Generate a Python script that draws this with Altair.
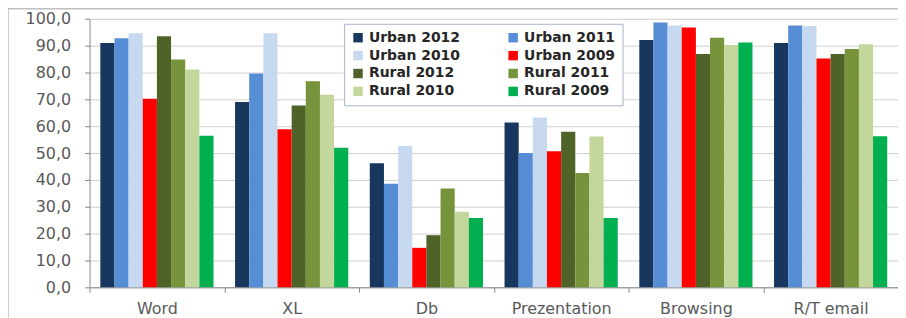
import altair as alt
import pandas as pd

categories = ["Word", "XL", "Db", "Prezentation", "Browsing", "R/T email"]
series = ["Urban 2012", "Urban 2011", "Urban 2010", "Urban 2009",
          "Rural 2012", "Rural 2011", "Rural 2010", "Rural 2009"]
colors = ["#17375E", "#558ED5", "#C6D9F1", "#FF0000",
          "#4F6228", "#77933C", "#C3D69B", "#00B050"]

urban_2012 = [91.0, 69.0, 46.2, 61.4, 92.1, 91.0]
urban_2011 = [92.8, 79.6, 38.6, 50.0, 98.6, 97.5]
urban_2010 = [94.6, 94.6, 52.6, 63.2, 97.5, 97.3]
urban_2009 = [70.2, 58.9, 14.7, 50.7, 96.8, 85.2]
rural_2012 = [93.5, 67.7, 19.4, 57.9, 86.9, 86.9]
rural_2011 = [84.8, 76.7, 36.8, 42.6, 92.9, 88.8]
rural_2010 = [81.1, 71.7, 28.1, 56.2, 90.2, 90.5]
rural_2009 = [56.4, 52.0, 25.8, 25.8, 91.2, 56.3]

values = [urban_2012, urban_2011, urban_2010, urban_2009,
          rural_2012, rural_2011, rural_2010, rural_2009]

rows = []
for s, vals in zip(series, values):
    for c, v in zip(categories, vals):
        rows.append({"category": c, "series": s, "value": v})
df = pd.DataFrame(rows)

# legend fills column by column: order so that rows read as in the reference
legend_order = [series[i] for i in (0, 2, 4, 6, 1, 3, 5, 7)]
legend_colors = [colors[series.index(s)] for s in legend_order]

FONT = "DejaVu Sans"
W, H = 813, 270
STEP = W / len(categories)
HALF_GAP = 0.08 * STEP

bars = alt.Chart(df).mark_bar().encode(
    x=alt.X("category:N", sort=categories, title=None,
            scale=alt.Scale(paddingInner=0.16, paddingOuter=0.08),
            axis=alt.Axis(labelAngle=0, labelFont=FONT, labelFontSize=16,
                          labelColor="#595959", labelPadding=8,
                          bandPosition=0, tickOffset=-HALF_GAP,
                          labelOffset=HALF_GAP,
                          tickSize=5, tickColor="#868686",
                          domainColor="#868686", grid=False)),
    xOffset=alt.XOffset("series:N", sort=series),
    y=alt.Y("value:Q", title=None,
            scale=alt.Scale(domain=[0, 100], nice=False),
            axis=alt.Axis(values=list(range(0, 101, 10)),
                          labelExpr="replace(format(datum.value, '.1f'), '.', ',')",
                          labelFont=FONT, labelFontSize=16, labelColor="#595959",
                          labelPadding=14, tickSize=5, tickColor="#868686",
                          domainColor="#868686", gridColor="#D0D0D0")),
    color=alt.Color("series:N",
                    scale=alt.Scale(domain=legend_order, range=legend_colors),
                    legend=alt.Legend(title=None, orient="none", legendX=256, legendY=5,
                                      columns=2, columnPadding=46, rowPadding=4,
                                      symbolType="square", symbolSize=90,
                                      symbolStrokeWidth=0, labelFont=FONT,
                                      labelFontSize=14, labelFontWeight="bold",
                                      labelColor="#262626", padding=7,
                                      strokeColor="#A6B3C9", fillColor="white")),
)

frame = alt.Chart(pd.DataFrame({"a": [0]})).mark_rect(
    fill=None, stroke="#BFBFBF", strokeWidth=1.5
).encode(x=alt.value(-82), y=alt.value(-10), x2=alt.value(W + 20), y2=alt.value(H + 40))

chart = alt.layer(frame, bars).properties(
    width=W, height=H,
    autosize="none",
    padding={"left": 82, "top": 10, "right": 0, "bottom": 30},
).configure_view(stroke=None)

chart.save("out.html", embed_options={"renderer": "svg", "actions": False})
